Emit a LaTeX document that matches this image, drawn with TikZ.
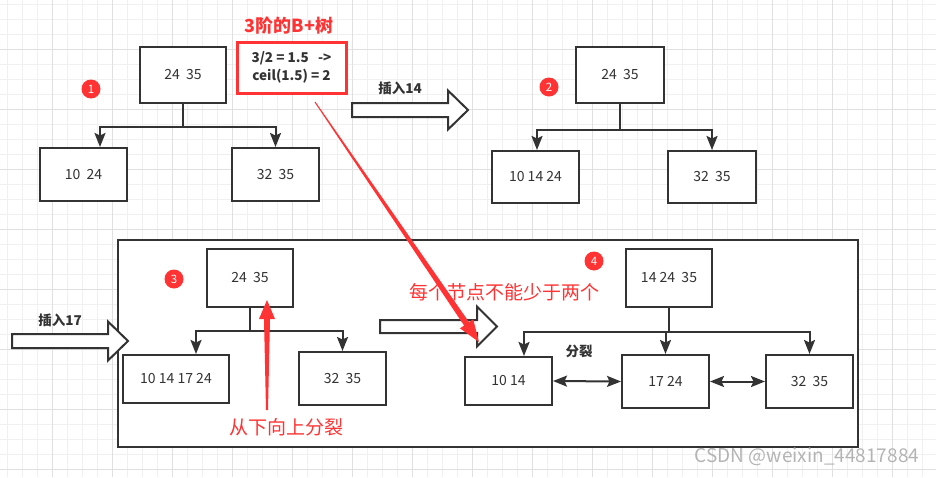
\documentclass[tikz,border=0pt]{standalone}
\usepackage{fontspec}
\setmainfont{Noto Sans CJK SC}
\usetikzlibrary{arrows.meta,calc}

\definecolor{ink}{HTML}{333333}
\definecolor{alert}{HTML}{FF3333}
\definecolor{gridminor}{HTML}{F0F0F0}
\definecolor{gridmajor}{HTML}{E0E0E0}
\definecolor{wmgray}{HTML}{B4B4B4}

\newcommand{\keyfont}{\fontsize{14}{16}\selectfont}
\newcommand{\labelfont}{\fontsize{13.5}{18}\selectfont\bfseries}
\newcommand{\notefont}{\fontsize{19}{22}\selectfont}

% hollow block arrow: x start, head base x, tip x, centre y, shaft half, head half
\newcommand{\fatarrow}[6]{%
  \draw[hollow] (#1,{#4-#5}) -- (#2,{#4-#5}) -- (#2,{#4-#6}) -- (#3,#4)
    -- (#2,{#4+#6}) -- (#2,{#4+#5}) -- (#1,{#4+#5}) -- cycle;}

\tikzset{
  keybox/.style={draw=ink, line width=2pt, fill=white, text=ink, font=\keyfont,
    inner sep=0pt},
  edge/.style={draw=ink, line width=2pt, -{Stealth[length=14pt,width=11pt,inset=2.5pt]}},
  link/.style={draw=ink, line width=2pt,
    {Stealth[length=14pt,width=11pt,inset=2.5pt]}-{Stealth[length=14pt,width=11pt,inset=2.5pt]}},
  badge/.style={circle, fill=alert, text=white, minimum size=19pt, inner sep=0pt,
    font=\fontsize{11.5}{12}\selectfont},
  hollow/.style={draw=ink, line width=2pt, fill=white, line join=miter},
  tag/.style={text=ink, font=\labelfont},
  hint/.style={text=alert, font=\notefont},
}

\begin{document}
\begin{tikzpicture}[x=1pt, y=-1pt]
  \useasboundingbox (0,0) rectangle (936,477);

  % paper grid
  \foreach \i in {0,...,62} \draw[gridminor, line width=1pt] (7+15*\i,0) -- (7+15*\i,477);
  \foreach \i in {0,...,31} \draw[gridminor, line width=1pt] (0,4+15*\i) -- (936,4+15*\i);
  \foreach \i in {0,...,14} \draw[gridmajor, line width=1pt] (52+60*\i,0) -- (52+60*\i,477);
  \foreach \i in {0,...,7} \draw[gridmajor, line width=1pt] (0,49+60*\i) -- (936,49+60*\i);

  % frame round steps 3 and 4
  \draw[ink, line width=2pt, fill=white] (118,240) rectangle (858,447);

  % step 1
  \node[keybox, minimum width=86pt, minimum height=56pt] (t1root) at (183,75) {24\ \ 35};
  \node[keybox, minimum width=87pt, minimum height=53pt] (t1left) at (83.5,174.5) {10\ \ 24};
  \node[keybox, minimum width=87pt, minimum height=53pt] (t1right) at (275.5,174.5) {32\ \ 35};
  \node[badge] (b1) at (91,89) {1};
  \draw[edge] (t1root.south) -- ++(0,23) -| ([xshift=16.5pt]t1left.north);
  \draw[edge] (t1root.south) -- ++(0,23) -| (t1right.north);

  % order of the tree
  \node[text=alert, font=\fontsize{18}{20}\selectfont\bfseries] (title) at (289,26) {3阶的B+树};
  \node[draw=alert, line width=3pt, fill=white, minimum width=109pt, minimum height=51pt,
    align=center, text=ink, font=\labelfont, inner sep=0pt] (rule) at (291.5,67.5)
    {3/2\ =\ 1.5\ \ \ ->\\ceil(1.5)\ =\ 2};

  % insert 14
  \fatarrow{352}{448}{468}{110}{7}{19.5}
  \node[tag] (ins14) at (400,88) {插入14};

  % step 2
  \node[keybox, minimum width=88pt, minimum height=56pt] (t2root) at (620,75) {24\ \ 35};
  \node[keybox, minimum width=87pt, minimum height=52pt] (t2left) at (535.5,177) {10 14 24};
  \node[keybox, minimum width=88pt, minimum height=52pt] (t2right) at (712,177) {32\ \ 35};
  \node[badge] (b2) at (549,87) {2};
  \draw[edge] (t2root.south) -- ++(0,26) -| ([xshift=1.5pt]t2left.north);
  \draw[edge] (t2root.south) -- ++(0,26) -| (t2right.north);

  % insert 17
  \fatarrow{12}{108}{128}{341}{7}{19.5}
  \node[tag] (ins17) at (60,320) {插入17};

  % step 3
  \node[keybox, minimum width=86pt, minimum height=58pt] (t3root) at (250,278) {24\ \ 35};
  \node[keybox, minimum width=106pt, minimum height=48pt] (t3left) at (176,379) {10 14 17 24};
  \node[keybox, minimum width=87pt, minimum height=53pt] (t3right) at (342.5,378.5) {32\ \ 35};
  \node[badge] (b3) at (174,279) {3};
  \draw[edge] (t3root.south) -- ++(0,23) -| ([xshift=20pt]t3left.north);
  \draw[edge] (t3root.south) -- ++(0,23) -| (t3right.north);
  \node[hint] (upward) at (286,427) {从下向上分裂};

  % step 3 to step 4
  \fatarrow{380}{477}{497}{326.5}{6.5}{20}
  \node[hint] (atleast) at (504,292) {每个节点不能少于两个};

  % step 4
  \node[keybox, minimum width=86pt, minimum height=58pt] (t4root) at (669,278) {14 24\ \ 35};
  \node[keybox, minimum width=87pt, minimum height=48pt] (t4left) at (508.5,381) {10 14};
  \node[keybox, minimum width=87pt, minimum height=53pt] (t4mid) at (665.5,381.5) {17 24};
  \node[keybox, minimum width=87pt, minimum height=53pt] (t4right) at (809.5,381.5) {32\ \ 35};
  \node[badge] (b4) at (594,261) {4};
  \draw[edge] (t4root.south) -- ++(0,24) -| ([xshift=15.5pt]t4left.north);
  \draw[edge] (t4root.south) -- ++(0,24) -| (t4mid.north);
  \draw[edge] (t4root.south) -- ++(0,24) -| (t4right.north);
  \draw[link] (t4left.east) -- (t4mid.west);
  \draw[link] (t4mid.east) -- (t4right.west);
  \node[tag] (split) at (579,351) {分裂};

  % red pointers
  \coordinate (pa) at (315,102);
  \coordinate (pt) at (479,342);
  \coordinate (ph) at ($(pt)!22pt!(pa)$);
  \fill[alert] ($(pa)!0.5pt!90:(pt)$) -- ($(ph)!3pt!-90:(pa)$) -- ($(ph)!8pt!-90:(pa)$)
    -- (pt) -- ($(ph)!8pt!90:(pa)$) -- ($(ph)!3pt!90:(pa)$) -- ($(pa)!0.5pt!-90:(pt)$) -- cycle;
  \coordinate (ua) at (267,410);
  \coordinate (ut) at (267,300);
  \coordinate (uh) at ($(ut)!19pt!(ua)$);
  \fill[alert] ($(ua)!1pt!90:(ut)$) -- ($(uh)!3pt!-90:(ua)$) -- ($(uh)!8pt!-90:(ua)$)
    -- (ut) -- ($(uh)!8pt!90:(ua)$) -- ($(uh)!3pt!90:(ua)$) -- ($(ua)!1pt!-90:(ut)$) -- cycle;

  % watermark
  \node[text=wmgray, font=\fontsize{19}{22}\selectfont] (wm) at (807,457) {CSDN @weixin\_44817884};
\end{tikzpicture}
\end{document}
